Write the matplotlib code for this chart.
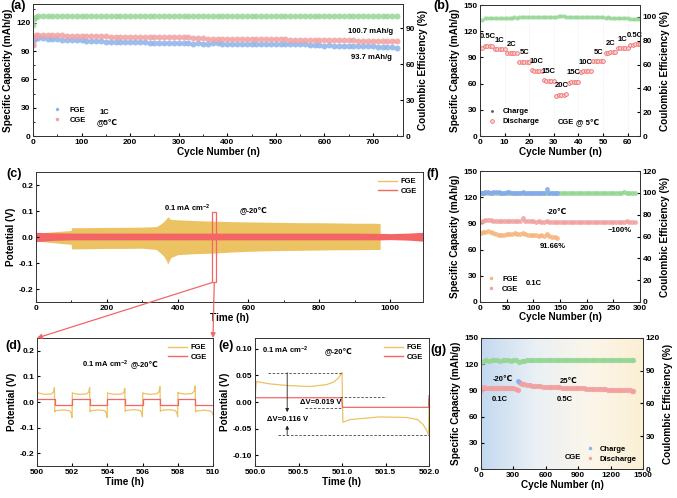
import numpy as np
import matplotlib
matplotlib.use("Agg")
import matplotlib.pyplot as plt
from matplotlib.patches import Rectangle, ConnectionPatch
from matplotlib.lines import Line2D
from matplotlib.colors import LinearSegmentedColormap
from matplotlib.ticker import AutoMinorLocator, FormatStrFormatter

# ---------------- data ----------------
# (a) long cycling, 1C @5C
a_cyc = [1, 3, 6] + list(range(10, 751, 10))
a_cge = [97.0, 104.5, 106.8,
         107.2, 107.0, 106.9, 106.8, 106.8, 106.6, 106.5, 106.4, 106.4, 106.2,
         106.0, 105.9, 105.9, 105.7, 105.6, 105.5, 105.5, 105.3, 105.2, 105.2,
         105.1, 105.1, 105.0, 104.9, 105.0, 104.8, 104.9, 105.0, 104.9, 105.0,
         104.8, 104.5, 103.8, 103.6, 103.6, 103.4, 103.4, 103.3, 103.2, 103.3,
         103.1, 103.0, 103.1, 102.9, 102.8, 102.9, 102.7, 102.6, 102.7, 102.5,
         102.4, 102.5, 102.3, 102.2, 102.3, 102.1, 102.0, 101.9, 101.8, 101.8,
         101.6, 101.5, 101.6, 101.4, 101.3, 101.3, 101.2, 101.1, 101.1, 101.0,
         100.9, 100.9, 100.8, 100.7, 100.7]
a_fge = [96.0, 101.5, 103.6,
         104.0, 103.7, 103.3, 103.0, 102.6, 102.3, 102.0, 101.8, 101.5, 101.3,
         101.0, 100.8, 100.6, 100.4, 100.2, 100.1, 99.9, 99.8, 99.6, 99.5,
         99.4, 99.3, 99.2, 99.1, 99.0, 98.9, 98.8, 98.9, 98.7, 98.6,
         98.8, 98.3, 98.1, 98.4, 98.0, 97.9, 98.2, 98.3, 97.9, 97.8,
         98.1, 97.9, 97.6, 97.8, 97.9, 97.5, 97.4, 97.8, 97.6, 97.3,
         97.6, 97.8, 97.5, 97.2, 97.4, 97.3, 97.0, 96.4, 96.0, 95.9,
         96.0, 95.7, 95.6, 95.8, 95.4, 95.3, 95.5, 95.2, 95.0, 95.1,
         94.8, 94.6, 94.3, 94.0, 93.7]
a_ce = [92.5, 97.8, 99.4,
        100.1, 100.2, 100.0, 100.1, 100.2, 100.1, 100.0, 100.2, 100.1, 100.1,
        100.2, 100.0, 100.1, 100.2, 100.1, 100.0, 100.1, 100.2, 100.1, 100.0,
        100.1, 100.2, 100.1, 100.1, 100.0, 100.2, 100.1, 100.0, 100.1, 100.2,
        100.1, 100.0, 100.1, 100.1, 100.2, 100.0, 100.1, 100.2, 100.1, 100.0,
        100.1, 100.2, 100.1, 100.0, 100.1, 100.1, 100.2, 100.0, 100.1, 100.2,
        100.1, 100.0, 100.1, 100.2, 100.1, 100.1, 100.0, 100.2, 100.1, 100.0,
        100.1, 100.2, 100.1, 100.0, 100.1, 100.1, 100.2, 100.0, 100.1, 100.1,
        100.0, 100.1, 100.2, 100.1, 100.0]

# (b) rate performance
b_cyc = list(range(1, 66))
b_rates = ["0.5C", "1C", "2C", "5C", "10C", "15C", "20C",
           "15C", "10C", "5C", "2C", "1C", "0.5C"]
b_dis = [101.0, 103.2, 103.5, 103.4, 103.6,
         99.8, 99.5, 99.6, 99.4, 99.5,
         94.9, 94.6, 94.7, 94.5, 94.6,
         85.3, 85.0, 85.1, 84.9, 85.0,
         75.2, 74.6, 74.5, 74.3, 74.2,
         64.0, 63.5, 63.3, 63.2, 63.0,
         46.0, 46.8, 47.1, 47.4, 47.6,
         61.2, 61.8, 62.0, 62.1, 62.2,
         73.6, 74.0, 74.2, 74.3, 74.4,
         85.5, 85.7, 85.8, 85.9, 86.0,
         95.4, 95.6, 95.7, 95.8, 95.9,
         100.6, 100.8, 100.9, 101.0, 101.0,
         104.2, 104.6, 104.8, 104.9, 105.0]
b_ce = [97.5, 98.8, 99.0, 99.1, 99.0, 99.2, 99.1, 99.2, 99.3, 99.2,
        99.4, 99.5, 99.4, 99.6, 99.5, 99.7, 99.8, 99.7, 99.8, 99.9,
        99.9, 100.0, 99.9, 100.0, 100.1, 100.1, 100.0, 100.2, 100.1, 100.2,
        100.3, 100.4, 100.5, 100.4, 100.3, 100.2, 100.3, 100.2, 100.1, 100.2,
        100.1, 100.0, 100.1, 99.9, 100.0, 99.8, 99.9, 99.7, 99.8, 99.6,
        99.5, 99.6, 99.4, 99.3, 99.4, 99.2, 99.1, 99.0, 98.9, 98.8,
        98.6, 98.5, 98.4, 98.3, 98.2]

# (c) symmetric cell voltage envelope, 0.1 mA cm-2 @-20C
c_fge_t = [0, 20, 50, 80, 99, 101, 150, 200, 250, 300, 340, 350, 360, 368,
           372, 380, 400, 450, 500, 550, 600, 650, 700, 750, 800, 850, 900,
           950, 972]
c_fge_hi = [0.015, 0.017, 0.020, 0.023, 0.025, 0.036, 0.036, 0.037, 0.037,
            0.038, 0.040, 0.048, 0.058, 0.070, 0.078, 0.068, 0.066, 0.063,
            0.061, 0.059, 0.058, 0.057, 0.056, 0.055, 0.055, 0.054, 0.053,
            0.053, 0.052]
c_fge_lo = [-0.015, -0.018, -0.022, -0.026, -0.028, -0.046, -0.045, -0.044,
            -0.044, -0.043, -0.048, -0.060, -0.072, -0.090, -0.105, -0.080,
            -0.068, -0.064, -0.062, -0.058, -0.055, -0.053, -0.052, -0.051,
            -0.050, -0.049, -0.049, -0.048, -0.048]
c_cge_t = [0, 50, 100, 300, 500, 700, 900, 975, 1000, 1050, 1093]
c_cge_hi = [0.018, 0.016, 0.015, 0.015, 0.015, 0.015, 0.015, 0.014, 0.013,
            0.015, 0.018]
c_cge_lo = [-0.018, -0.013, -0.011, -0.011, -0.011, -0.011, -0.011, -0.011,
            -0.010, -0.012, -0.016]

# (d) zoom 500-510 h
d_fge_t = [500.00, 500.03, 500.40, 500.80, 500.93, 500.99,
           501.01, 501.05, 501.50, 501.85, 501.94, 501.99,
           502.01, 502.03, 502.40, 502.80, 502.93, 502.99,
           503.01, 503.05, 503.50, 503.85, 503.94, 503.99,
           504.01, 504.03, 504.40, 504.80, 504.93, 504.99,
           505.01, 505.05, 505.50, 505.85, 505.94, 505.99,
           506.01, 506.03, 506.40, 506.80, 506.93, 506.99,
           507.01, 507.05, 507.50, 507.85, 507.94, 507.99,
           508.01, 508.03, 508.40, 508.80, 508.93, 508.99,
           509.01, 509.05, 509.50, 509.85, 509.94, 510.00]
d_fge_v = [0.025, 0.036, 0.030, 0.031, 0.038, 0.056,
           -0.038, -0.034, -0.031, -0.034, -0.043, -0.061,
           0.036, 0.034, 0.030, 0.031, 0.038, 0.056,
           -0.038, -0.034, -0.031, -0.034, -0.043, -0.061,
           0.036, 0.034, 0.030, 0.031, 0.037, 0.053,
           -0.037, -0.033, -0.030, -0.033, -0.041, -0.057,
           0.036, 0.034, 0.030, 0.032, 0.040, 0.060,
           -0.037, -0.033, -0.030, -0.033, -0.041, -0.057,
           0.037, 0.035, 0.031, 0.033, 0.042, 0.063,
           -0.039, -0.035, -0.032, -0.035, -0.040, -0.049]
d_cge_t = [500, 501, 501, 502, 502, 503, 503, 504, 504, 505,
           505, 506, 506, 507, 507, 508, 508, 509, 509, 510]
d_cge_v = [0.010, 0.010, -0.012, -0.012, 0.010, 0.010, -0.012, -0.012,
           0.010, 0.010, -0.012, -0.012, 0.010, 0.010, -0.012, -0.012,
           0.010, 0.010, -0.012, -0.012]

# (e) zoom 500-502 h
e_fge_t = [500.00, 500.01, 500.02, 500.06, 500.17, 500.36, 500.63, 500.82,
           500.90, 500.96, 500.99, 501.00, 501.01, 501.09, 501.43, 501.74,
           501.87, 501.93, 501.97, 501.995, 502.00]
e_fge_v = [0.000, 0.030, 0.039, 0.037, 0.034, 0.031, 0.029, 0.0325,
           0.037, 0.045, 0.053, 0.055, -0.038, -0.033, -0.028, -0.029,
           -0.033, -0.042, -0.052, -0.062, 0.006]
e_cge_t = [500.0, 500.005, 500.995, 501.005, 501.995, 502.0]
e_cge_v = [0.003, 0.008, 0.008, -0.010, -0.010, 0.012]

# (f) -20C cycling 0.1C
f_fge_cyc = [1] + list(range(5, 146, 5))
f_fge_cap = [79.0, 80.0, 80.5, 81.0, 80.5, 79.0, 77.5, 76.5, 76.8, 77.2,
             77.5, 77.8, 78.2, 78.5, 78.0, 77.6, 78.5, 77.8, 77.0, 76.8,
             77.2, 76.5, 76.0, 76.2, 75.8, 77.5, 75.5, 75.0, 74.5, 73.8]
f_fge_ce = [99.5, 100.2, 100.4, 100.6, 100.3, 100.5, 100.4, 100.7, 100.3,
            100.2, 100.4, 100.5, 100.2, 100.3, 100.1, 100.2, 100.4, 100.2,
            100.1, 100.3, 100.2, 100.0, 100.2, 100.1, 100.3, 103.5, 100.2,
            100.0, 100.1, 100.0]
f_cge_cyc = [1] + list(range(5, 291, 5))
f_cge_cap = [92.0, 93.0, 93.4, 93.8, 93.6, 93.3, 93.0, 92.8, 92.7, 92.6,
             92.5, 92.6, 92.4, 92.5, 92.6, 92.6, 95.8, 92.3, 92.4, 92.2,
             92.3, 92.1, 92.2, 92.0, 92.1, 92.2, 92.0, 91.9, 92.0, 92.1,
             91.9, 92.0, 91.8, 91.9, 92.0, 91.8, 91.9, 91.7, 91.8, 91.9,
             91.7, 91.8, 91.6, 91.7, 91.8, 91.6, 91.7, 91.8, 91.6, 91.7,
             91.8, 91.7, 91.9, 91.8, 92.0, 92.3, 92.1, 91.9, 91.8]
f_cge_ce = [99.6, 100.1, 100.2, 100.0, 100.1, 100.2, 100.0, 100.1, 100.1,
            100.0, 100.2, 100.1, 100.0, 100.1, 100.2, 100.1, 100.0, 100.1,
            100.2, 100.0, 100.1, 100.1, 100.0, 100.2, 100.1, 100.0, 100.1,
            100.2, 100.1, 100.0, 100.1, 100.1, 100.0, 100.2, 100.1, 100.0,
            100.1, 100.2, 100.1, 100.0, 100.1, 100.1, 100.0, 100.2, 100.1,
            100.0, 100.1, 100.2, 100.1, 100.0, 100.1, 100.1, 100.0, 100.2,
            100.6, 100.1, 100.0, 100.1, 100.0]

# (g) -20C then 25C
g_dis_cyc = ([1, 20, 40, 60, 80, 100, 120, 140, 160, 180, 200, 220, 240,
              260, 280, 300, 320, 340, 355, 365, 380, 400]
             + list(range(425, 1401, 25)) + [1410])
g_dis_cap = [91.0, 93.5, 93.2, 93.0, 92.8, 92.6, 92.7, 92.5, 92.4, 92.6,
             92.5, 92.3, 92.4, 92.6, 93.0, 92.2, 91.5, 90.8,
             100.0, 98.8, 97.8, 97.0,
             96.3, 95.8, 95.4, 95.1, 94.8, 94.6, 94.4, 94.2, 94.0, 93.8,
             93.7, 93.5, 93.4, 93.2, 93.1, 93.0, 92.8, 92.7, 92.6, 92.4,
             92.3, 92.2, 92.1, 92.0, 91.8, 91.7, 91.6, 91.4, 91.3, 91.2,
             91.0, 90.9, 90.8, 90.6, 90.5, 90.3, 90.2, 90.0, 89.9, 89.7,
             89.6]
g_chg_cyc = [343]
g_chg_cap = [100.3]
g_ce_cyc = [1] + list(range(25, 1401, 25)) + [1410]
g_ce = [97.5, 99.0, 99.6, 99.2, 99.8, 99.4, 99.7, 99.3, 99.9, 99.5,
        99.6, 99.2, 99.8, 99.4, 97.8, 99.0, 99.3, 99.4, 99.5, 99.5,
        99.5, 99.6, 99.5, 99.5, 99.6, 99.5, 99.5, 99.6, 99.5, 99.5,
        99.6, 99.5, 99.5, 99.6, 99.5, 99.5, 99.6, 99.5, 99.5, 99.6,
        99.5, 99.5, 99.6, 99.5, 99.5, 99.6, 99.5, 99.5, 99.6, 99.5,
        99.5, 99.6, 99.5, 99.5, 99.6, 99.5, 99.5, 99.5]

# ---------------- style ----------------
plt.rcParams["font.family"] = ["Liberation Sans", "DejaVu Sans"]
plt.rcParams["font.weight"] = "bold"
plt.rcParams["axes.labelweight"] = "bold"
plt.rcParams["mathtext.fontset"] = "custom"
plt.rcParams["mathtext.rm"] = "Liberation Sans:bold"
plt.rcParams["mathtext.bf"] = "Liberation Sans:bold"
plt.rcParams["mathtext.default"] = "bf"
plt.rcParams["xtick.direction"] = "in"
plt.rcParams["ytick.direction"] = "in"
plt.rcParams["xtick.labelsize"] = 6
plt.rcParams["ytick.labelsize"] = 6
plt.rcParams["xtick.major.size"] = 2.5
plt.rcParams["ytick.major.size"] = 2.5
plt.rcParams["xtick.minor.size"] = 1.5
plt.rcParams["ytick.minor.size"] = 1.5
plt.rcParams["xtick.major.pad"] = 2
plt.rcParams["ytick.major.pad"] = 2
plt.rcParams["axes.linewidth"] = 0.7
plt.rcParams["axes.edgecolor"] = "#333333"

LAB = 7.2
ANN = 5.5
BLUE = "#8DB4EC"
PINK = "#F2A0A0"
GREEN = "#95D695"
ORANGE = "#F7B57A"
GOLD = "#EBC362"
RED = "#F46666"

W, H = 677, 498
fig = plt.figure(figsize=(W / 100, H / 100), dpi=100)


def add_ax(l, t, r, b):
    return fig.add_axes([l / W, 1 - b / H, (r - l) / W, (b - t) / H])


def cap_panel(ax, ylim2, yticks2):
    ax.set_ylabel("Specific Capacity (mAh/g)", fontsize=LAB, labelpad=2)
    ax.set_xlabel("Cycle Number (n)", fontsize=LAB, labelpad=1)
    ax2 = ax.twinx()
    ax2.set_ylim(*ylim2)
    ax2.set_yticks(yticks2)
    ax2.tick_params(direction="in", labelsize=6, pad=2)
    ax2.set_ylabel("Coulombic Efficiency (%)", fontsize=LAB, labelpad=2)
    return ax2


def panel_label(x, y, s):
    fig.text(x / W, 1 - y / H, s, fontsize=9, fontweight="bold",
             ha="center", va="center")


line_handles = [Line2D([], [], color=GOLD, lw=1), Line2D([], [], color=RED, lw=1)]
leg_lines = dict(loc="upper right", frameon=False, fontsize=ANN,
                 handlelength=2.5, labelspacing=0.3, borderpad=0.3,
                 handletextpad=0.5)

# ---------------- (a) ----------------
ax_a = add_ax(33, 4, 403, 136)
ax_a.set_xlim(0, 762)
ax_a.set_ylim(0, 140)
ax_a.set_xticks(range(0, 701, 100))
ax_a.set_yticks([0, 30, 60, 90, 120])
ax_a.xaxis.set_minor_locator(AutoMinorLocator(2))
ax_a.yaxis.set_minor_locator(AutoMinorLocator(2))
ax_a2 = cap_panel(ax_a, (0, 110), [0, 30, 60, 90])
ax_a.plot(a_cyc, a_fge, "o", ms=4.3, color=BLUE, mew=0, alpha=0.85)
ax_a.plot(a_cyc, a_cge, "o", ms=4.3, color=PINK, mew=0, alpha=0.85)
ax_a2.plot(a_cyc, a_ce, "o", ms=4.3, color=GREEN, mew=0, alpha=0.85)
ax_a.legend(handles=[Line2D([], [], ls="", marker="o", ms=2.5, color=BLUE, mew=0),
                     Line2D([], [], ls="", marker="o", ms=2.5, color=PINK, mew=0)],
            labels=["FGE", "CGE"], loc="lower left", bbox_to_anchor=(0.04, 0.05),
            frameon=False, fontsize=ANN, handletextpad=1.2, labelspacing=0.35,
            borderpad=0.2, handlelength=1)
ax_a.text(146, 25, "1C", fontsize=ANN, ha="center", va="center")
ax_a.text(152, 14.5, "@5℃", fontsize=ANN, ha="center", va="center")
ax_a.text(696, a_cge[-1] + 10, "%.1f mAh/g" % a_cge[-1], fontsize=ANN,
          ha="center", va="center")
ax_a.text(696, a_fge[-1] - 10, "%.1f mAh/g" % a_fge[-1], fontsize=ANN,
          ha="center", va="center")

# ---------------- (b) ----------------
ax_b = add_ax(480, 5, 640, 136)
ax_b.set_xlim(0, 65)
ax_b.set_ylim(0, 150)
ax_b.set_xticks(range(0, 61, 10))
ax_b.set_yticks(range(0, 151, 30))
ax_b.grid(axis="x", color="#dddddd", lw=0.4, ls=":")
ax_b2 = cap_panel(ax_b, (0, 110), range(0, 101, 20))
ax_b.plot(b_cyc, b_dis, "o", ms=2, color="#555555", mew=0)
ax_b.plot(b_cyc, b_dis, "o", ms=2.7, mfc="#FAD0D0", mec="#F06060", mew=0.5)
ax_b2.plot(b_cyc, b_ce, "o", ms=3, color=GREEN, mew=0, alpha=0.85)
for i, r in enumerate(b_rates):
    grp = b_dis[i * 5:(i + 1) * 5]
    ax_b.text(b_cyc[i * 5 + 2], max(grp) + 10, r, fontsize=ANN, ha="center",
              va="center")
ax_b.legend(handles=[Line2D([], [], ls="", marker="o", ms=2, color="#555555", mew=0),
                     Line2D([], [], ls="", marker="o", ms=2.7, mfc="#FAD0D0",
                            mec="#F06060", mew=0.5)],
            labels=["Charge", "Discharge"], loc="lower left",
            bbox_to_anchor=(0.02, 0.04), frameon=False, fontsize=ANN,
            handletextpad=0.8, labelspacing=0.35, borderpad=0.2, handlelength=1)
ax_b.text(31.6, 16, "CGE", fontsize=ANN, ha="left", va="center")
ax_b.text(39, 16, "@ 5℃", fontsize=ANN, ha="left", va="center")

# ---------------- (c) ----------------
ax_c = add_ax(36, 172, 423, 302)
ax_c.set_xlim(0, 1093)
ax_c.set_ylim(-0.25, 0.25)
ax_c.set_xticks(range(0, 1001, 200))
ax_c.set_yticks([-0.2, -0.1, 0.0, 0.1, 0.2])
ax_c.yaxis.set_major_formatter(FormatStrFormatter("%.1f"))
ax_c.xaxis.set_minor_locator(AutoMinorLocator(2))
ax_c.fill_between(c_fge_t, c_fge_lo, c_fge_hi, color=GOLD, lw=0)
ax_c.fill_between(c_cge_t, c_cge_lo, c_cge_hi, color=RED, lw=0)
ax_c.set_xlabel("Time (h)", fontsize=LAB, labelpad=1)
ax_c.set_ylabel("Potential (V)", fontsize=LAB, labelpad=2)
ax_c.text(427, 0.11, "0.1 mA cm$^{-2}$", fontsize=ANN, ha="center", va="center")
ax_c.text(613, 0.105, "@-20℃", fontsize=ANN, ha="center", va="center")
box = Rectangle((498, -0.175), 11, 0.27, fill=False, ec=RED, lw=0.9)
ax_c.add_patch(box)
ax_c.legend(handles=line_handles, labels=["FGE", "CGE"], **leg_lines)

# ---------------- (d) ----------------
ax_d = add_ax(37, 338, 213, 466)
ax_d.set_xlim(500, 510)
ax_d.set_ylim(-0.25, 0.25)
ax_d.set_xticks(range(500, 511, 2))
ax_d.set_yticks([-0.2, -0.1, 0.0, 0.1, 0.2])
ax_d.yaxis.set_major_formatter(FormatStrFormatter("%.1f"))
ax_d.plot(d_fge_t, d_fge_v, color=GOLD, lw=0.9)
ax_d.plot(d_cge_t, d_cge_v, color=RED, lw=0.9)
ax_d.set_xlabel("Time (h)", fontsize=LAB, labelpad=1)
ax_d.set_ylabel("Potential (V)", fontsize=LAB, labelpad=2)
ax_d.text(505.2, 0.149, "0.1 mA cm$^{-2}$", fontsize=ANN, ha="right",
          va="center")
ax_d.text(505.3, 0.149, "@-20℃", fontsize=ANN, ha="left", va="center")
ax_d.legend(handles=line_handles, labels=["FGE", "CGE"], **leg_lines)

# ---------------- (e) ----------------
ax_e = add_ax(255, 338, 429, 466)
ax_e.set_xlim(500, 502)
ax_e.set_ylim(-0.12, 0.12)
ax_e.set_xticks([500.0, 500.5, 501.0, 501.5, 502.0])
ax_e.set_yticks([-0.10, -0.05, 0.0, 0.05, 0.10])
ax_e.xaxis.set_major_formatter(FormatStrFormatter("%.1f"))
ax_e.yaxis.set_major_formatter(FormatStrFormatter("%.2f"))
ax_e.plot(e_fge_t, e_fge_v, color=GOLD, lw=0.9)
ax_e.plot(e_cge_t, e_cge_v, color=RED, lw=0.9)
ax_e.set_xlabel("Time (h)", fontsize=LAB, labelpad=1)
ax_e.set_ylabel("Potential (V)", fontsize=LAB, labelpad=2)
vmax, vmin = max(e_fge_v), min(e_fge_v)
cge_hi, cge_lo = max(e_cge_v[1:3]), min(e_cge_v[3:5])
dash = dict(color="#444444", lw=0.6, ls=(0, (3, 2)))
ax_e.hlines(vmax, 500.15, 501.0, **dash)
ax_e.hlines(vmin, 500.26, 502.0, **dash)
ax_e.hlines(cge_hi + 0.002, 500.98, 501.5, **dash)
ax_e.hlines(cge_lo - 0.001, 500.57, 501.0, **dash)
arr = dict(arrowstyle="-|>", lw=0.6, color="#222222", mutation_scale=5,
           shrinkA=0, shrinkB=0)
ax_e.annotate("", xy=(500.37, -0.019), xytext=(500.37, vmax), arrowprops=arr)
ax_e.annotate("", xy=(500.37, -0.044), xytext=(500.37, vmin), arrowprops=arr)
ax_e.text(500.37, -0.032, "ΔV=0.116 V", fontsize=ANN, ha="center", va="center")
ax_e.text(500.99, -0.001, "ΔV=0.019 V", fontsize=ANN, ha="right", va="center")
ax_e.text(500.34, 0.096, "0.1 mA cm$^{-2}$", fontsize=ANN, ha="center",
          va="center")
ax_e.text(500.96, 0.096, "@-20℃", fontsize=ANN, ha="center", va="center")
ax_e.legend(handles=line_handles, labels=["FGE", "CGE"], **leg_lines)

# arrows from the box in (c) to (d)
for xc, xd in ((498, 0), (503.5, 1)):
    con = ConnectionPatch(xyA=(xc, -0.175), coordsA=ax_c.transData,
                          xyB=(xd, 1), coordsB=ax_d.transAxes,
                          arrowstyle="-|>", color=RED, lw=0.9,
                          mutation_scale=7, shrinkA=0, shrinkB=0)
    fig.add_artist(con)

# ---------------- (f) ----------------
ax_f = add_ax(480, 171, 640, 302)
ax_f.set_xlim(0, 300)
ax_f.set_ylim(0, 150)
ax_f.set_xticks(range(0, 301, 50))
ax_f.set_yticks(range(0, 151, 30))
ax_f2 = cap_panel(ax_f, (0, 120), range(0, 121, 20))
ax_f.xaxis.labelpad = 0
ax_f.plot(f_cge_cyc, f_cge_cap, "o", ms=3.5, color=PINK, mew=0, alpha=0.85)
ax_f.plot(f_fge_cyc, f_fge_cap, "o", ms=3.5, color=ORANGE, mew=0, alpha=0.85)
ax_f2.plot(f_cge_cyc, f_cge_ce, "o", ms=3.5, color=GREEN, mew=0, alpha=0.9)
ax_f2.plot(f_fge_cyc, f_fge_ce, "o", ms=3.5, color="#86A9EE", mew=0, alpha=0.9)
ax_f.text(144, 103, "-20℃", fontsize=ANN, ha="center", va="center")
ax_f.text(262, 82, "~100%", fontsize=ANN, ha="center", va="center")
ax_f.text(137, 63, "91.66%", fontsize=ANN, ha="center", va="center")
ax_f.legend(handles=[Line2D([], [], ls="", marker="o", ms=2.5, color=ORANGE, mew=0),
                     Line2D([], [], ls="", marker="o", ms=2.5, color=PINK, mew=0)],
            labels=["FGE", "CGE"], loc="lower left", bbox_to_anchor=(0.01, 0.03),
            frameon=False, fontsize=ANN, handletextpad=1.0, labelspacing=0.35,
            borderpad=0.2, handlelength=1)
ax_f.text(101, 21.5, "0.1C", fontsize=ANN, ha="center", va="center")

# ---------------- (g) ----------------
ax_g = add_ax(481, 338, 643, 469)
ax_g.set_xlim(0, 1500)
ax_g.set_ylim(0, 150)
ax_g.set_xticks(range(0, 1501, 300))
ax_g.set_yticks(range(0, 151, 30))
bg = LinearSegmentedColormap.from_list("bg", ["#C3D9F0", "#EAF0F5", "#FBF6EA",
                                              "#FBF0D4"])
ax_g.imshow(np.linspace(0, 1, 256).reshape(1, -1), cmap=bg, aspect="auto",
            extent=[0, 1500, 0, 150], zorder=0)
ax_g2 = cap_panel(ax_g, (0, 120), range(0, 121, 30))
ax_g2.plot(g_ce_cyc, g_ce, "o", ms=3.8, color=GREEN, mew=0, alpha=0.9)
ax_g.plot(g_chg_cyc, g_chg_cap, "o", ms=3.5, color="#8AB0EE", mew=0, zorder=3)
ax_g.plot(g_dis_cyc, g_dis_cap, "o", ms=3.8, color=PINK, mew=0, alpha=0.9,
          zorder=2)
ax_g.text(204, 103, "-20℃", fontsize=ANN, ha="center", va="center")
ax_g.text(176, 80, "0.1C", fontsize=ANN, ha="center", va="center")
ax_g.text(808, 100, "25℃", fontsize=ANN, ha="center", va="center")
ax_g.text(780, 80, "0.5C", fontsize=ANN, ha="center", va="center")
ax_g.legend(handles=[Line2D([], [], ls="", marker="o", ms=2.5, color="#8AB0EE", mew=0),
                     Line2D([], [], ls="", marker="o", ms=2.5, color=PINK, mew=0)],
            labels=["Charge", "Discharge"], loc="lower right",
            bbox_to_anchor=(1.0, 0.0), frameon=False, fontsize=ANN,
            handletextpad=0.8, labelspacing=0.35, borderpad=0.3, handlelength=1)
ax_g.text(855, 13, "CGE", fontsize=ANN, ha="center", va="center")

# panel labels
panel_label(18, 6, "(a)")
panel_label(441, 6, "(b)")
panel_label(14, 174, "(c)")
panel_label(433, 174, "(f)")
panel_label(13, 346, "(d)")
panel_label(226, 346, "(e)")
panel_label(438, 350, "(g)")

fig.savefig("out.png", dpi=100)
